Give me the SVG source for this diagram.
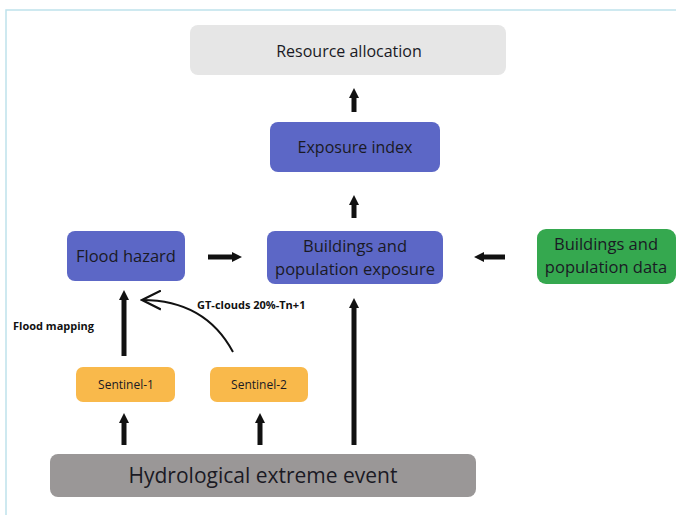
<svg xmlns="http://www.w3.org/2000/svg" width="676" height="515" viewBox="0 0 676 515">
<style>
text{font-family:"Open Sans","Noto Sans","DejaVu Sans",sans-serif;text-anchor:middle;fill:#1a1a24}
.blue{fill:#5c67c6}
.arr{stroke:#111;stroke-width:5;fill:none}
.lbl{font-weight:bold;font-size:11px;text-anchor:start;fill:#111}
</style>
<defs>
<marker id="head" viewBox="0 0 10 10" refX="0" refY="5" markerWidth="10" markerHeight="12" markerUnits="userSpaceOnUse" orient="auto">
<path d="M0,0 L10,5 L0,10 z" fill="#111"/>
</marker>
<marker id="open" viewBox="0 0 10 10" refX="9" refY="5" markerWidth="21" markerHeight="21" markerUnits="userSpaceOnUse" orient="auto">
<path d="M0,0.5 L9,5 L0,9.5" fill="none" stroke="#111" stroke-width="1"/>
</marker>
</defs>
<rect width="676" height="515" fill="#fff"/>
<path d="M6,515 V10 H676" fill="none" stroke="#bfe2ec" stroke-width="1.5"/>
<g id="resource-allocation"><rect x="190" y="25" width="316" height="50" rx="8" fill="#e6e6e6"/><text x="349" y="57" font-size="16">Resource allocation</text></g>
<g id="exposure-index"><rect class="blue" x="270" y="122" width="170" height="50" rx="8"/><text x="355" y="153" font-size="16">Exposure index</text></g>
<g id="flood-hazard"><rect class="blue" x="67" y="231" width="118" height="50" rx="8"/><text x="126" y="262" font-size="16.5">Flood hazard</text></g>
<g id="buildings-exposure"><rect class="blue" x="267" y="231" width="176" height="53" rx="8"/><text x="355" y="252" font-size="16.5">Buildings and</text><text x="355" y="275" font-size="16.5">population exposure</text></g>
<g id="buildings-data"><rect x="537" y="229" width="139" height="55" rx="9" fill="#35a84f"/><text x="606" y="250" font-size="16.5">Buildings and</text><text x="606" y="273" font-size="16.5">population data</text></g>
<g id="sentinel-1"><rect x="76" y="367" width="99" height="35" rx="7" fill="#f9b94b"/><text x="126" y="389" font-size="12">Sentinel-1</text></g>
<g id="sentinel-2"><rect x="210" y="367" width="98" height="35" rx="7" fill="#f9b94b"/><text x="259" y="389" font-size="12">Sentinel-2</text></g>
<g id="hydrological-event"><rect x="50" y="454" width="426" height="43" rx="8" fill="#9a9797"/><text x="263" y="483" font-size="21">Hydrological extreme event</text></g>
<g id="connectors">
<line class="arr" x1="354" y1="112" x2="354" y2="98" marker-end="url(#head)"/>
<line class="arr" x1="354" y1="218" x2="354" y2="205" marker-end="url(#head)"/>
<line class="arr" x1="124" y1="356" x2="124" y2="300" marker-end="url(#head)"/>
<line class="arr" x1="124" y1="445" x2="124" y2="423" marker-end="url(#head)"/>
<line class="arr" x1="260" y1="445" x2="260" y2="423" marker-end="url(#head)"/>
<line class="arr" x1="354" y1="445" x2="354" y2="308" marker-end="url(#head)"/>
<line class="arr" x1="208" y1="257" x2="232" y2="257" marker-end="url(#head)"/>
<line class="arr" x1="505" y1="257" x2="484" y2="257" marker-end="url(#head)"/>
<path d="M233,352 Q205,300 142,300" fill="none" stroke="#111" stroke-width="2" marker-end="url(#open)"/>
</g>
<text class="lbl" x="197" y="309">GT-clouds 20%-Tn+1</text>
<text class="lbl" x="13" y="330">Flood mapping</text>
</svg>
